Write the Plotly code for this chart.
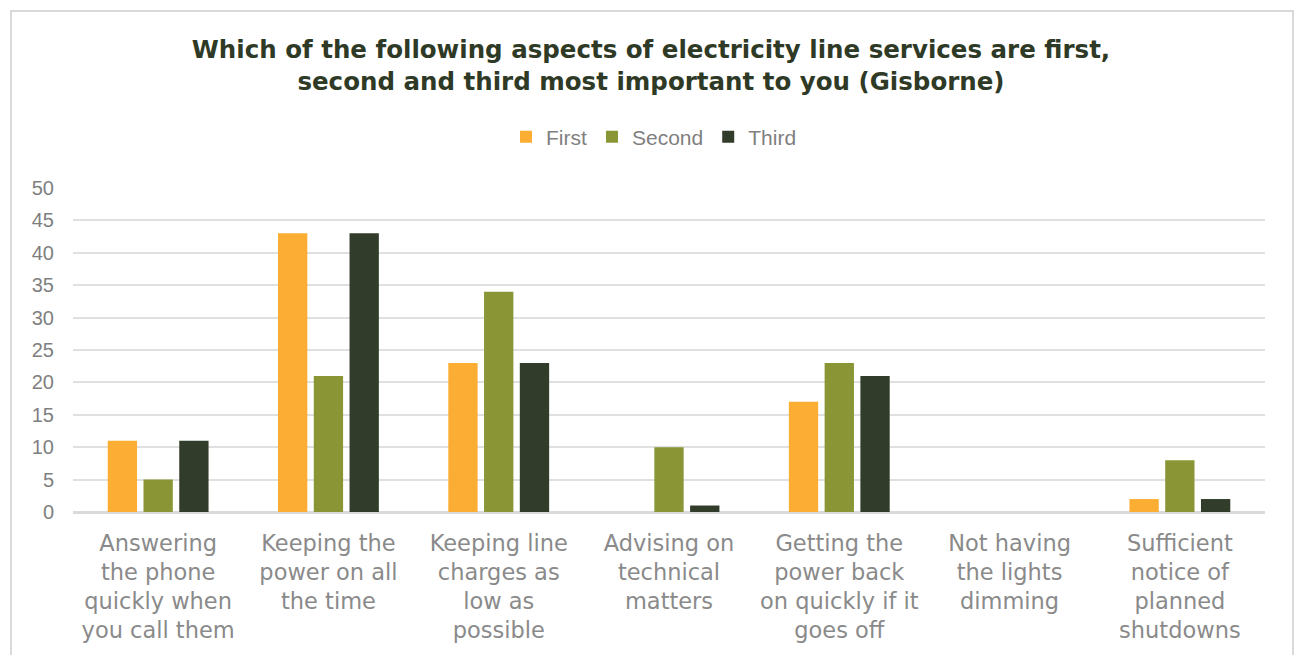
import plotly.graph_objects as go

categories = [
    "Answering<br>the phone<br>quickly when<br>you call them",
    "Keeping the<br>power on all<br>the time",
    "Keeping line<br>charges as<br>low as<br>possible",
    "Advising on<br>technical<br>matters",
    "Getting the<br>power back<br>on quickly if it<br>goes off",
    "Not having<br>the lights<br>dimming",
    "Sufficient<br>notice of<br>planned<br>shutdowns",
]
first = [11, 43, 23, 0, 17, 0, 2]
second = [5, 21, 34, 10, 23, 0, 8]
third = [11, 43, 23, 1, 21, 0, 2]
y_ticks = [0, 5, 10, 15, 20, 25, 30, 35, 40, 45, 50]

colors = {"First": "#FBAE33", "Second": "#8A9636", "Third": "#313D2A"}

fig = go.Figure()
for name, vals in [("First", first), ("Second", second), ("Third", third)]:
    fig.add_trace(go.Bar(
        x=list(range(len(categories))), y=vals, name=name,
        marker=dict(color=colors[name], line=dict(width=0)),
    ))

W, H = 1300, 655
ml, mr, mt, mb = 73, 35, 188, 143
pw = W - ml - mr
ph = H - mt - mb

def px_x(p):
    return (p - ml) / pw

def px_y(p):
    return (H - mb - p) / ph

fig.update_layout(
    width=W, height=H,
    margin=dict(l=ml, r=mr, t=mt, b=mb),
    paper_bgcolor="white", plot_bgcolor="white",
    barmode="group", bargap=0.37, bargroupgap=0.18,
    title=dict(
        text="<b>Which of the following aspects of electricity line services are first,<br>second and third most important to you (Gisborne)</b>",
        x=651 / W, xref="container", xanchor="center", y=1 - 58 / H, yanchor="middle",
        font=dict(family="DejaVu Sans", size=24.5, color="#2F3A26"),
    ),
    legend=dict(
        orientation="h", x=px_x(654), xanchor="center", y=px_y(137), yanchor="middle",
        font=dict(family="Liberation Sans", size=21, color="#7F7F7F"),
        itemwidth=30, traceorder="normal",
    ),
    showlegend=True,
    font=dict(family="Liberation Sans"),
)

fig.update_xaxes(
    tickmode="array", tickvals=list(range(len(categories))), ticktext=categories,
    range=[-0.5, len(categories) - 0.5],
    tickfont=dict(family="DejaVu Sans", size=22.5, color="#8A8A8A"),
    showgrid=False, zeroline=False, showline=False, ticks="",
    ticklabelstandoff=15,
)
fig.update_yaxes(
    range=[0, 50], tickmode="array", tickvals=y_ticks,
    tickfont=dict(family="Liberation Sans", size=20, color="#7F7F7F"),
    showgrid=True, gridcolor="#E0E0E0", gridwidth=1.5,
    zeroline=True, zerolinecolor="#DADADA", zerolinewidth=3,
    showline=False, ticks="", ticklabelstandoff=18,
)

fig.add_shape(
    type="rect", xref="paper", yref="paper",
    x0=px_x(11), x1=px_x(1293), y0=px_y(H + 20), y1=px_y(11),
    line=dict(color="#D9D9D9", width=2), fillcolor="rgba(0,0,0,0)", layer="below",
)

fig.write_html("out.html")
